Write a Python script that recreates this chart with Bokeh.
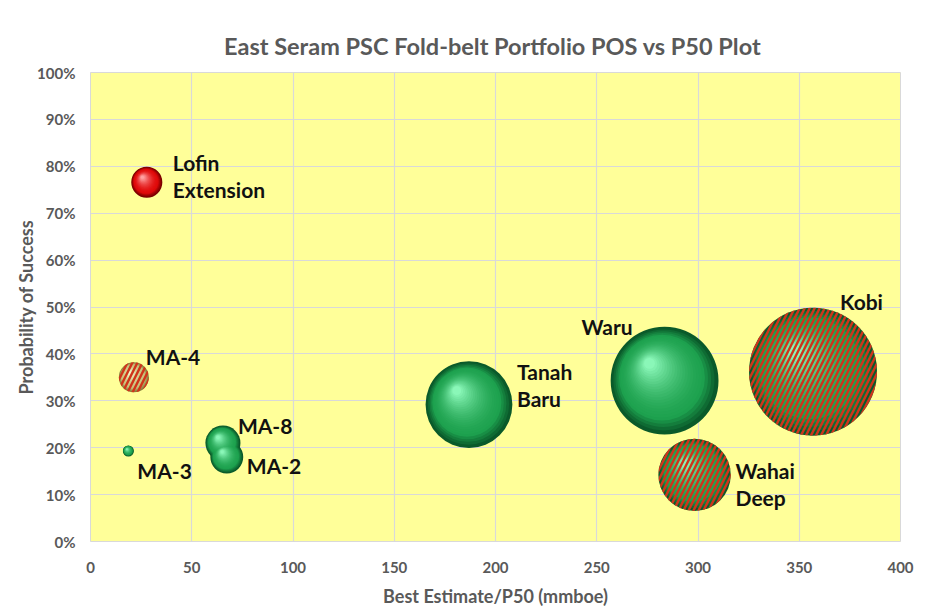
from bokeh.plotting import figure
from bokeh.models import ColumnDataSource, NumeralTickFormatter, FixedTicker, Range1d
from bokeh.core.properties import value
from bokeh.embed import file_html
from bokeh.resources import INLINE

# ---------------- data ----------------
prospects = ["Lofin\nExtension", "MA-4", "MA-3", "MA-2", "MA-8",
             "Tanah\nBaru", "Waru", "Wahai\nDeep", "Kobi"]
p50_mmboe = [27.8, 21.4, 18.7, 67.3, 65.4, 186.9, 283.5, 298.3, 356.8]
pos = [0.766, 0.350, 0.193, 0.180, 0.210, 0.292, 0.343, 0.142, 0.362]
bubble_size = [5.9, 5.5, 0.74, 6.6, 7.5, 46.0, 71.0, 32.0, 100.0]
colour_group = ["red", "olive", "green", "green", "green", "green", "green", "green", "green"]
hatched = [False, True, False, False, False, False, False, True, True]

x_ticks = [0, 50, 100, 150, 200, 250, 300, 350, 400]
y_ticks = [0.0, 0.1, 0.2, 0.3, 0.4, 0.5, 0.6, 0.7, 0.8, 0.9, 1.0]

# ---------------- styling / layout ----------------
W, H = 928, 609
ML, MR, MT, MB = 90, 28, 72, 68
FW, FH = W - ML - MR, H - MT - MB
X0, X1, Y0, Y1 = 0, 400, 0.0, 1.0
MAX_DIAM = 128.0

label_dx = [26, 12, 9, 20, 15, 48, -32, 41, 27]
label_dy = [-6, -21, 20, 8, -18, -20, -54, 9, -70]
label_align = ["left", "left", "left", "left", "left", "left", "right", "left", "left"]

stops = {
    "green": ["#0a5a2a", "#1ea24f", "#8af7b8"],
    "red": ["#7a0000", "#e00a0a", "#ffa0a0"],
    "olive": ["#8a7f3c", "#c9c27a", "#f2f5c4"],
}

def hex2rgb(h):
    h = h.lstrip("#")
    return [int(h[i:i + 2], 16) for i in (0, 2, 4)]

def mix(a, b, f):
    ra, rb = hex2rgb(a), hex2rgb(b)
    return "#%02x%02x%02x" % tuple(int(round(ra[i] + (rb[i] - ra[i]) * f)) for i in range(3))

def shade(group, t):
    d, m, l = stops[group]
    if t < 0.18:
        return mix(d, m, t / 0.18)
    return mix(m, l, ((t - 0.18) / 0.82) ** 1.6)

p = figure(width=W, height=H, output_backend="svg", toolbar_location=None,
           x_range=Range1d(X0, X1), y_range=Range1d(Y0, Y1),
           min_border_left=ML, min_border_right=MR, min_border_top=MT, min_border_bottom=MB,
           title="East Seram PSC Fold-belt Portfolio POS vs P50  Plot")

p.background_fill_color = "#ffff99"
p.border_fill_color = "white"
p.outline_line_color = "#d9d9d9"
p.outline_line_width = 1

p.title.align = "center"
p.title.text_font = "Lato"
p.title.text_font_size = "23.5px"
p.title.text_font_style = "bold"
p.title.text_color = "#595959"
p.title.standoff = 26

for ax in (p.xaxis[0], p.yaxis[0]):
    ax.axis_line_color = None
    ax.major_tick_line_color = None
    ax.minor_tick_line_color = None
    ax.major_tick_out = 0
    ax.major_tick_in = 0
    ax.minor_tick_out = 0
    ax.minor_tick_in = 0
    ax.major_label_text_font = "Lato"
    ax.major_label_text_font_size = "15px"
    ax.major_label_text_font_style = "bold"
    ax.major_label_text_color = "#595959"
    ax.axis_label_text_font = "Lato"
    ax.axis_label_text_font_size = "18px"
    ax.axis_label_text_font_style = "bold"
    ax.axis_label_text_color = "#595959"

p.xaxis.ticker = FixedTicker(ticks=x_ticks)
p.yaxis.ticker = FixedTicker(ticks=y_ticks)
p.yaxis.formatter = NumeralTickFormatter(format="0%")
p.xaxis.axis_label = "Best Estimate/P50 (mmboe)"
p.yaxis.axis_label = "Probability of Success"
p.xaxis.major_label_standoff = 20
p.yaxis.major_label_standoff = 15
p.xaxis.axis_label_standoff = 9
p.yaxis.axis_label_standoff = -3

p.xgrid.ticker = FixedTicker(ticks=x_ticks)
p.ygrid.ticker = FixedTicker(ticks=y_ticks)
p.grid.grid_line_color = "#d9d9d9"
p.grid.grid_line_width = 1.2

# ---------------- shaded bubbles ----------------
px_per_x = FW / (X1 - X0)
px_per_y = FH / (Y1 - Y0)
radii = [MAX_DIAM / 2 * (s / max(bubble_size)) ** 0.5 for s in bubble_size]

N = 24
for i in range(N):
    t = i / (N - 1)
    xs, ys, sz, cols = [], [], [], []
    for k in range(len(prospects)):
        r = radii[k]
        ox = -0.28 * r * t
        oy = 0.32 * r * t
        ri = r * (1 - 0.9 * t ** 0.85)
        xs.append(p50_mmboe[k] + ox / px_per_x)
        ys.append(pos[k] + oy / px_per_y)
        sz.append(2 * max(ri, 0.6))
        cols.append(shade(colour_group[k], t))
    src = ColumnDataSource(dict(x=xs, y=ys, size=sz, color=cols))
    p.scatter("x", "y", size="size", source=src, fill_color="color", line_color=None)

hx = [p50_mmboe[k] for k in range(len(prospects)) if hatched[k]]
hy = [pos[k] for k in range(len(prospects)) if hatched[k]]
hs = [2 * radii[k] for k in range(len(prospects)) if hatched[k]]
p.scatter(hx, hy, size=hs, fill_alpha=0, line_color=None,
          hatch_pattern="/", hatch_color="#d0341a", hatch_alpha=1.0,
          hatch_scale=10, hatch_weight=2.4)

# ---------------- labels ----------------
lab = ColumnDataSource(dict(x=p50_mmboe, y=pos, text=prospects,
                            dx=label_dx, dy=label_dy, align=label_align))
p.text("x", "y", text="text", source=lab, x_offset="dx", y_offset="dy",
       text_align="align", text_baseline="middle",
       text_font=value("Lato"), text_font_style="bold", text_font_size="21px",
       text_color="#111111", text_line_height=1.08)

open("out.html", "w").write(file_html(p, INLINE))
